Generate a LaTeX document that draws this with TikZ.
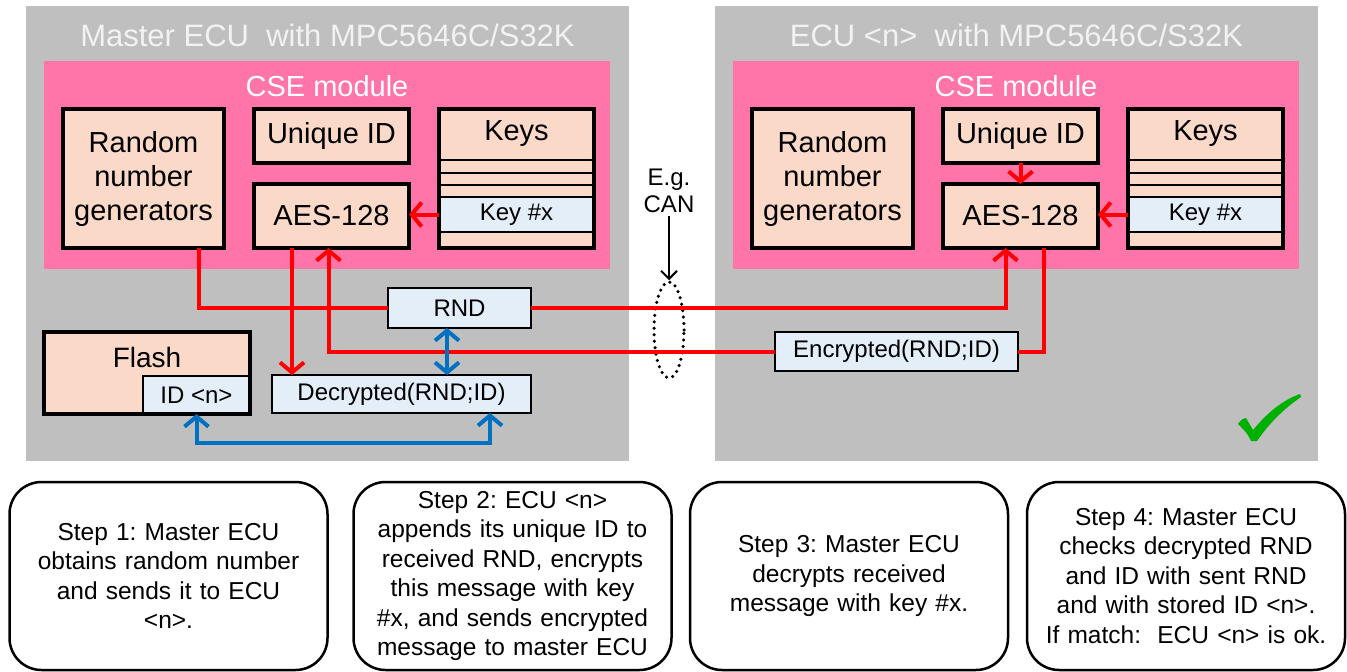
\documentclass[tikz,border=0pt]{standalone}
\usepackage{fontspec}
\setmainfont{Liberation Sans}
\usetikzlibrary{arrows.meta,shapes.geometric}

\definecolor{panelgray}{HTML}{BFBFBF}
\definecolor{csepink}{HTML}{FF74A9}
\definecolor{peach}{HTML}{FBD9C9}
\definecolor{paleblue}{HTML}{E3EEF8}
\definecolor{flowblue}{HTML}{0070C0}
\definecolor{okgreen}{HTML}{00B000}

\tikzset{
  area/.style={inner sep=0pt, outer sep=0pt},
  unit/.style={draw=black, line width=3.5pt, fill=peach, inner sep=0pt, outer sep=0pt,
    align=center, font=\fontsize{29}{34}\selectfont},
  field/.style={draw=black, line width=2.5pt, fill=paleblue, inner sep=0pt, outer sep=0pt,
    font=\fontsize{24}{28}\selectfont},
  redflow/.style={draw=red, line width=4pt, -{Straight Barb[length=10pt,width=24pt]}},
  redline/.style={draw=red, line width=4pt},
  blueflow/.style={draw=flowblue, line width=4pt,
    {Straight Barb[length=10pt,width=24pt]}-{Straight Barb[length=10pt,width=24pt]}},
  stepbox/.style={draw=black, line width=2.5pt, rounded corners=32pt, minimum width=318pt,
    minimum height=188pt, text width=300pt, align=center, font=\fontsize{24.5}{29.5}\selectfont}
}

\begin{document}
\frenchspacing
\begin{tikzpicture}[x=1pt,y=-1pt]
\useasboundingbox (0,0) rectangle (1347,672);

% the two ECUs
\foreach \dx/\s/\who in {0/L/Master ECU, 689/R/ECU <n>}{
  \begin{scope}[xshift=\dx]
    \node[area, fill=panelgray, minimum width=603pt, minimum height=455pt] (panel\s) at (327.5,233.5) {};
    \node[text=white!95!black, font=\fontsize{31}{34}\selectfont] (title\s) at (327.5,35) {\who~ with MPC5646C/S32K};
    \node[area, fill=csepink, minimum width=566pt, minimum height=208pt] (cse\s) at (327,165) {};
    \node[text=white, font=\fontsize{29}{34}\selectfont] (cselabel\s) at (327,86) {CSE module};
    \node[unit, minimum width=161pt, minimum height=139pt] (rng\s) at (143.5,178.5) {Random\\number\\generators};
    \node[unit, minimum width=155pt, minimum height=54pt] (uid\s) at (331.5,136) {Unique ID};
    \node[unit, minimum width=155pt, minimum height=64pt] (aes\s) at (331.5,216) {AES-128};
    % key store
    \node[unit, minimum width=155pt, minimum height=139pt] (keys\s) at (516.5,178.5) {};
    \node[font=\fontsize{29}{34}\selectfont] (keystitle\s) at (516.5,134) {Keys};
    \foreach \ky in {160,173,185}
      \draw[line width=2.5pt] (keys\s.west |- 0,\ky) -- (keys\s.east |- 0,\ky);
    \node[field, minimum width=155pt, minimum height=35pt] (keyx\s) at (516.5,214.5) {Key \#x};
    \draw[line width=3.5pt] (keys\s.south west) rectangle (keys\s.north east);
    \draw[redflow] (keyx\s.west) -- (keyx\s.west -| aes\s.east);
  \end{scope}
}

% master side storage and messages
\node[unit, minimum width=206pt, minimum height=82pt] (flash) at (147,373) {};
\node[font=\fontsize{28}{32}\selectfont] (flashlabel) at (147,357) {Flash};
\node[field, minimum width=107pt, minimum height=38pt] (idn) at (196.5,395) {ID <n>};
\draw[line width=3.5pt] (flash.south west) rectangle (flash.north east);
\node[field, minimum width=143pt, minimum height=40pt] (rnd) at (459.5,308) {RND};
\node[field, minimum width=259pt, minimum height=38pt] (dec) at (401.5,394) {Decrypted(RND;ID)};
\node[field, minimum width=243pt, minimum height=39pt] (enc) at (896.5,351.5) {Encrypted(RND;ID)};

% bus between the ECUs
\node[font=\fontsize{24}{27}\selectfont, align=center] (can) at (669,191) {E.g.\\CAN};
\node[draw, ellipse, line width=3.5pt, dash pattern=on 0pt off 6.5pt, line cap=round,
  minimum width=30pt, minimum height=96pt, inner sep=0pt] (bus) at (669,330) {};
\draw[line width=2pt, -{Straight Barb[length=8pt,width=16pt]}] (can.south) -- (bus.north);

% red message flow
\draw[redline] ([xshift=-25pt]rngL.south east) |- (rnd.west);
\draw[redflow] (rnd.east) -| ([xshift=-15pt]aesR.south);
\draw[redflow] (uidR.south) -- (aesR.north);
\draw[redline] ([xshift=23pt]aesR.south) |- (enc.east);
\draw[redflow] (enc.west) -| ([xshift=-3pt]aesL.south);
\draw[redflow] ([xshift=-39.5pt]aesL.south) -- ([xshift=-39.5pt]aesL.south |- dec.north);

% blue compare flow
\draw[blueflow] ([xshift=-12.5pt]rnd.south) -- ([xshift=-12.5pt]rnd.south |- dec.north);
\draw[blueflow] (idn.south) -- ++(0,29) -| ([xshift=88.5pt]dec.south);

% ok mark
\fill[okgreen] (1238,424) .. controls (1242,419) .. (1246,418) -- (1253,430)
  .. controls (1268,412) and (1283,400) .. (1300,394) -- (1301,397)
  .. controls (1282,410) and (1268,425) .. (1257,441) -- (1251,441)
  .. controls (1247,433) .. (1238,424) -- cycle;

% steps
\node[stepbox] (step1) at (168.5,576) {Step 1: Master ECU\\obtains random number\\and sends it to ECU\\<n>.};
\node[stepbox] (step2) at (512.5,576) {Step 2: ECU <n>\\appends its unique ID to\\received RND, encrypts\\this message with key\\\#x, and sends encrypted\\message to master ECU};
\node[stepbox] (step3) at (849,576) {Step 3: Master ECU\\decrypts received\\message with key \#x.};
\node[stepbox] (step4) at (1186,576) {Step 4: Master ECU\\checks decrypted RND\\and ID with sent RND\\and with stored ID <n>.\\If match:~ ECU <n> is ok.};
\end{tikzpicture}
\end{document}
